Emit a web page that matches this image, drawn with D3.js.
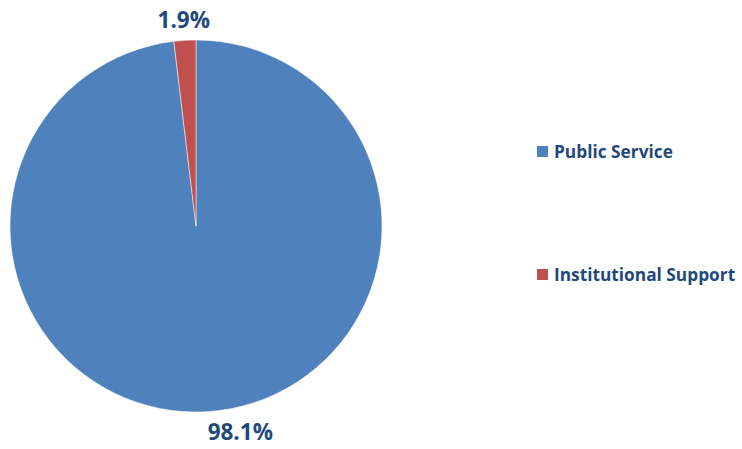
<!DOCTYPE html>
<html>
<head>
<meta charset="utf-8">
<script src="https://cdn.jsdelivr.net/npm/d3@7"></script>
<style>
  body { margin: 0; background: #fff; }
  text { font-family: "Open Sans", Lato, sans-serif; font-weight: bold; fill: #1F497D; }
</style>
</head>
<body>
<div id="chart"></div>
<script>
  // Data

  const categories = ["Public Service", "Institutional Support"];
  const shares = [98.1, 1.9];
  const colors = ["#4F81BD", "#C0504D"];

  // Config

  const width = 742;
  const height = 449;
  const cx = 196;
  const cy = 226;
  const radius = 186;

  const svg = d3.select("#chart")
    .append("svg")
    .attr("width", width)
    .attr("height", height);

  const data = categories.map((c, i) => ({ name: c, value: shares[i], color: colors[i] }));

  const pie = d3.pie()
    .sort(null)
    .value(d => d.value);

  const arc = d3.arc()
    .innerRadius(0)
    .outerRadius(radius);

  const labelArc = d3.arc()
    .innerRadius(radius + 20)
    .outerRadius(radius + 20);

  const g = svg.append("g")
    .attr("transform", `translate(${cx}, ${cy})`);

  const arcs = pie(data);

  g.selectAll("path.slice")
    .data(arcs)
    .join("path")
    .attr("class", "slice")
    .attr("d", arc)
    .attr("fill", d => d.data.color)
    .attr("stroke", "#fff")
    .attr("stroke-width", 0.5);

  // Data labels (Excel nudges the big one sideways)

  const labelShift = [32, 0];

  g.selectAll("text.label")
    .data(arcs)
    .join("text")
    .attr("class", "label")
    .attr("x", (d, i) => labelArc.centroid(d)[0] + labelShift[i])
    .attr("y", d => labelArc.centroid(d)[1])
    .attr("dy", "0.35em")
    .attr("text-anchor", "middle")
    .style("font-size", "22.5px")
    .text(d => d.data.value.toFixed(1) + "%");

  // Legend

  const legendY = d3.scalePoint()
    .domain(categories)
    .range([152, 275]);

  const legend = svg.append("g")
    .attr("transform", "translate(537, 0)");

  const item = legend.selectAll("g.item")
    .data(data)
    .join("g")
    .attr("class", "item")
    .attr("transform", d => `translate(0, ${legendY(d.name)})`);

  item.append("rect")
    .attr("x", 0)
    .attr("y", -6)
    .attr("width", 11)
    .attr("height", 11)
    .attr("fill", d => d.color);

  item.append("text")
    .attr("x", 17)
    .attr("y", 0)
    .attr("dy", "0.35em")
    .style("font-size", "17.3px")
    .text(d => d.name);
</script>
</body>
</html>
